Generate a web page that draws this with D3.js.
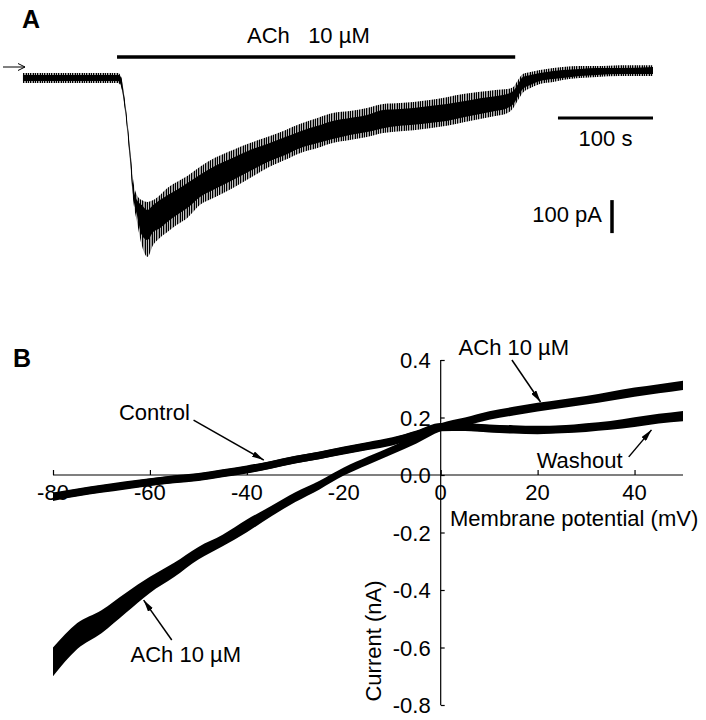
<!DOCTYPE html>
<html>
<head>
<meta charset="utf-8">
<title>ACh current</title>
<script src="https://d3js.org/d3.v7.min.js"></script>
<style>
  body { margin: 0; background: #fff; }
  text { font-family: "Liberation Sans", Arial, sans-serif; font-size: 22px; fill: #000; }
</style>
</head>
<body>
<script>
// ---- Panel A: current trace, time (s) vs current (pA)
var traceTime  = [1, 40, 82, 101, 104, 108, 114, 117, 121, 126, 132, 138, 145, 153, 163, 174, 187, 203, 222, 240,
                  258, 277, 293, 311, 327, 345, 363, 380, 398, 412, 429, 447, 466, 482, 498, 511, 517, 522, 527, 535,
                  545, 559, 569, 587, 605, 629, 664];
// outer envelope (noise spikes)
var traceOutHi = [15, 15, 15, 15, 6, -61, -218, -309, -355, -370, -376, -370, -355, -333, -315, -297, -270, -242, -218, -197,
                  -179, -158, -139, -121, -106, -100, -91, -79, -76, -73, -67, -58, -48, -42, -36, -33, -27, -6, 12, 18,
                  24, 30, 33, 36, 36, 39, 39];
var traceOutLo = [-15, -15, -15, -15, -24, -91, -264, -370, -436, -506, -542, -506, -485, -467, -445, -424, -385, -361, -333, -303,
                  -273, -248, -227, -212, -197, -188, -179, -167, -161, -158, -152, -145, -133, -124, -115, -106, -91, -67, -45, -30,
                  -18, -12, -6, 0, 3, 6, 6];
// dense core of the trace
var traceCoreHi = [9, 9, 9, 9, 3, -67, -227, -324, -370, -385, -400, -385, -370, -355, -339, -318, -294, -267, -242, -218,
                   -200, -179, -161, -145, -130, -121, -112, -97, -94, -91, -85, -79, -70, -61, -55, -48, -39, -18, 3, 9,
                   15, 21, 24, 27, 30, 30, 33];
var traceCoreLo = [-9, -9, -9, -9, -21, -85, -255, -358, -415, -476, -491, -467, -455, -436, -415, -394, -361, -336, -309, -282,
                   -255, -233, -212, -197, -185, -173, -164, -152, -145, -142, -136, -130, -118, -109, -100, -91, -79, -55, -33, -21,
                   -9, -3, 0, 6, 9, 12, 12];
var achOn = [100, 519];          // application bar (s)
var timeBar = [564, 664];        // 100 s scale bar
var currentBar = [-370, -470];   // 100 pA scale bar

// ---- Panel B: I-V relations, membrane potential (mV) vs current (nA)
var ivVoltage = [-80, -75, -70, -65, -60, -55, -50, -45, -40, -35, -30, -25, -20, -15, -10, -5,
                 0, 5, 10, 15, 20, 25, 30, 35, 40, 45, 50];
var controlI  = [-0.077, -0.062, -0.049, -0.037, -0.025, -0.016, -0.008, 0.005, 0.018, 0.035, 0.053, 0.068, 0.084, 0.100, 0.116, 0.140,
                 0.165, 0.166, 0.161, 0.157, 0.155, 0.158, 0.163, 0.170, 0.180, 0.192, 0.200];
var washoutI  = [-0.074, -0.060, -0.047, -0.035, -0.024, -0.014, -0.006, 0.007, 0.020, 0.036, 0.054, 0.069, 0.086, 0.102, 0.118, 0.142,
                 0.168, 0.167, 0.163, 0.160, 0.158, 0.160, 0.167, 0.175, 0.188, 0.200, 0.210];
var achI      = [-0.650, -0.560, -0.510, -0.445, -0.382, -0.330, -0.272, -0.228, -0.177, -0.126, -0.077, -0.035, 0.012, 0.050, 0.086, 0.124,
                 0.166, 0.185, 0.207, 0.222, 0.236, 0.248, 0.260, 0.274, 0.288, 0.300, 0.312];
var controlNoise = 0.013;
var achNoise  = [0.050, 0.045, 0.040, 0.035, 0.028, 0.025, 0.022, 0.020, 0.022, 0.018, 0.017, 0.015, 0.014, 0.014, 0.014, 0.014,
                 0.014, 0.015, 0.015, 0.015, 0.015, 0.015, 0.015, 0.016, 0.016, 0.016, 0.016];
var xTicks = [-80, -60, -40, -20, 0, 20, 40];
var yTicks = [0.4, 0.2, 0.0, -0.2, -0.4, -0.6, -0.8];

var svg = d3.select("body").append("svg")
  .attr("width", 706)
  .attr("height", 720);

var defs = svg.append("defs");
// irregular vertical hatching to suggest the recording noise
var pat = defs.append("pattern")
  .attr("id", "spikes")
  .attr("width", 7).attr("height", 6)
  .attr("patternUnits", "userSpaceOnUse");
[[0, 1.2], [2, 1], [3.6, 0.8], [5, 1.3]].forEach(function (r) {
  pat.append("rect").attr("x", r[0]).attr("width", r[1]).attr("height", 6).attr("fill", "#000");
});
defs.append("marker")
  .attr("id", "head")
  .attr("viewBox", "0 0 12 6")
  .attr("markerWidth", 12).attr("markerHeight", 6)
  .attr("markerUnits", "userSpaceOnUse")
  .attr("refX", 12).attr("refY", 3)
  .attr("orient", "auto")
  .append("path").attr("d", "M0,0L12,3L0,6Z").attr("fill", "#000");

// ================= Panel A =================
var xA = d3.scaleLinear().domain([0, 664]).range([22, 653]);
var yA = d3.scaleLinear().domain([-500, 0]).range([243, 78]);

svg.append("text").attr("x", 22).attr("y", 28)
  .style("font-size", "25px").style("font-weight", "bold").text("A");

var areaA = function (hi, lo) {
  return d3.area()
    .x(function (d, i) { return xA(traceTime[i]); })
    .y0(function (d, i) { return yA(lo[i]); })
    .y1(function (d, i) { return yA(hi[i]); })
    .curve(d3.curveMonotoneX)(traceTime);
};
svg.append("path").attr("d", areaA(traceOutHi, traceOutLo)).attr("fill", "url(#spikes)");
svg.append("path").attr("d", areaA(traceCoreHi, traceCoreLo)).attr("fill", "#000");

// drug application bar
svg.append("line")
  .attr("x1", xA(achOn[0])).attr("x2", xA(achOn[1]))
  .attr("y1", 57).attr("y2", 57)
  .attr("stroke", "#000").attr("stroke-width", 3.5);
svg.append("text").attr("x", 247).attr("y", 43)
  .style("white-space", "pre").text("ACh   10 \u00b5M");

// holding-current arrow
svg.append("line").attr("x1", 3).attr("x2", 25).attr("y1", 67).attr("y2", 67)
  .attr("stroke", "#000").attr("stroke-width", 1);
svg.append("polyline").attr("points", "18,63.5 25,67 18,70.5")
  .attr("fill", "none").attr("stroke", "#000").attr("stroke-width", 1);

// scale bars
svg.append("line")
  .attr("x1", xA(timeBar[0])).attr("x2", xA(timeBar[1]))
  .attr("y1", 118).attr("y2", 118)
  .attr("stroke", "#000").attr("stroke-width", 3);
svg.append("text").attr("x", (xA(timeBar[0]) + xA(timeBar[1])) / 2).attr("y", 146)
  .attr("text-anchor", "middle").text("100 s");
svg.append("line")
  .attr("x1", 612).attr("x2", 612)
  .attr("y1", yA(currentBar[0])).attr("y2", yA(currentBar[1]))
  .attr("stroke", "#000").attr("stroke-width", 3.5);
svg.append("text").attr("x", 602).attr("y", 222)
  .attr("text-anchor", "end").text("100 pA");

// ================= Panel B =================
var xB = d3.scaleLinear().domain([-80, 50]).range([53, 683]);
var yB = d3.scaleLinear().domain([-0.8, 0.4]).range([705, 360]);

svg.append("text").attr("x", 13).attr("y", 367)
  .style("font-size", "25px").style("font-weight", "bold").text("B");

// axes crossing at the origin
var xAxis = d3.axisTop(xB).tickValues(xTicks).tickSize(5).tickFormat("");
var gx = svg.append("g").attr("transform", "translate(0," + yB(0) + ")").call(xAxis);
gx.select(".domain").attr("d", "M" + xB(-80) + ",0H" + xB(50));
var yAxis = d3.axisRight(yB).tickValues(yTicks).tickSize(4).tickFormat("");
var gy = svg.append("g").attr("transform", "translate(" + xB(0) + ",0)").call(yAxis);
gy.select(".domain").attr("d", "M0," + yB(0.4) + "V" + yB(-0.8));
svg.selectAll(".domain, .tick line").attr("stroke", "#000").attr("stroke-width", 1.2);

svg.selectAll(".xlab").data(xTicks).enter().append("text")
  .attr("class", "xlab")
  .attr("x", function (d) { return xB(d); })
  .attr("y", yB(0) + 25)
  .attr("text-anchor", "middle")
  .text(function (d) { return d; });
svg.selectAll(".ylab").data(yTicks).enter().append("text")
  .attr("class", "ylab")
  .attr("x", xB(0) - 10)
  .attr("y", function (d) { return yB(d) + 8; })
  .attr("text-anchor", "end")
  .text(function (d) { return d.toFixed(1); });

svg.append("text").attr("x", 450).attr("y", 526).text("Membrane potential (mV)");
svg.append("text")
  .attr("transform", "translate(381,641) rotate(-90)")
  .attr("text-anchor", "middle").text("Current (nA)");

// I-V traces as noisy bands
function ivBand(values, noise) {
  return d3.area()
    .x(function (d, i) { return xB(ivVoltage[i]); })
    .y0(function (d, i) { return yB(d - (Array.isArray(noise) ? noise[i] : noise)); })
    .y1(function (d, i) { return yB(d + (Array.isArray(noise) ? noise[i] : noise)); })
    .curve(d3.curveMonotoneX)(values);
}
svg.append("path").attr("d", ivBand(controlI, controlNoise)).attr("fill", "#000");
svg.append("path").attr("d", ivBand(washoutI, controlNoise)).attr("fill", "#000");
svg.append("path").attr("d", ivBand(achI, achNoise)).attr("fill", "#000");

// labels with arrows (positions in mV / nA)
var notes = [
  { text: "Control",   at: [-66.4, 0.191], from: [-51, 0.191],  to: [-36.5, 0.052] },
  { text: "ACh 10 \u00b5M", at: [-64, -0.65], from: [-55.5, -0.574], to: [-61.3, -0.435] },
  { text: "ACh 10 \u00b5M", at: [3.7, 0.417], from: [14.7, 0.40], to: [20.6, 0.254] },
  { text: "Washout",   at: [19.8, 0.024], from: [38.8, 0.063], to: [43.5, 0.157] }
];
notes.forEach(function (n) {
  svg.append("text").attr("x", xB(n.at[0])).attr("y", yB(n.at[1])).text(n.text);
  svg.append("line")
    .attr("x1", xB(n.from[0])).attr("y1", yB(n.from[1]))
    .attr("x2", xB(n.to[0])).attr("y2", yB(n.to[1]))
    .attr("stroke", "#000").attr("stroke-width", 1.5)
    .attr("marker-end", "url(#head)");
});
</script>
</body>
</html>
